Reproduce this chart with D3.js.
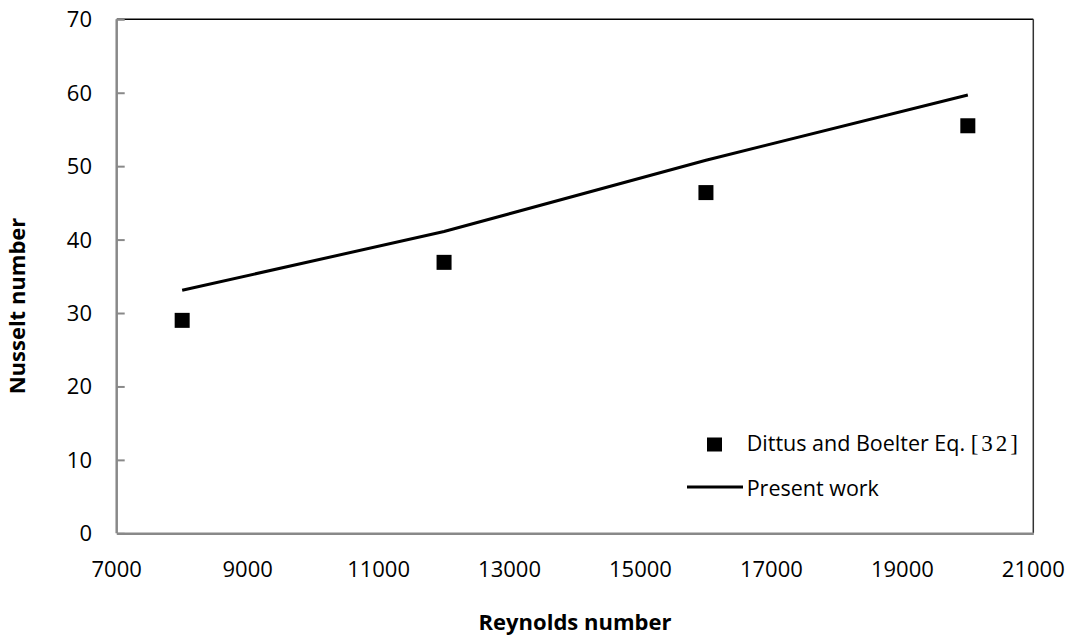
<!DOCTYPE html>
<html>
<head>
<meta charset="utf-8">
<script src="https://cdn.jsdelivr.net/npm/d3@7"></script>
<style>
  html, body { margin: 0; padding: 0; background: #fff; }
  svg { display: block; }
  text { font-family: "Open Sans", Lato, sans-serif; fill: #000; }
</style>
</head>
<body>
<svg id="chart" width="1076" height="639"></svg>
<script>
// Reynolds number at which each case was evaluated
const reynolds = [8000, 12000, 16000, 20000];
// Nusselt number from the Dittus–Boelter correlation
const dittusBoelter = [29.0, 36.9, 46.4, 55.5];
// Nusselt number from the present simulations
const presentWork = [33.1, 41.1, 50.8, 59.7];
// Axis ticks
const xTicks = [7000, 9000, 11000, 13000, 15000, 17000, 19000, 21000];
const yTicks = [0, 10, 20, 30, 40, 50, 60, 70];

const svg = d3.select("#chart");
const margin = { left: 116.7, right: 1033.3, top: 19.3, bottom: 533.3 };

const x = d3.scaleLinear().domain([7000, 21000]).range([margin.left, margin.right]);
const y = d3.scaleLinear().domain([0, 70]).range([margin.bottom, margin.top]);

const axisGrey = "#898989";

// Frame: top and right edges
svg.append("line")
  .attr("x1", margin.left).attr("x2", margin.right)
  .attr("y1", margin.top).attr("y2", margin.top)
  .attr("stroke", "#000").attr("stroke-width", 1.5);
svg.append("line")
  .attr("x1", margin.right).attr("x2", margin.right)
  .attr("y1", margin.top).attr("y2", margin.bottom)
  .attr("stroke", "#333").attr("stroke-width", 1.5);

// Y axis with inward ticks
const yAxis = svg.append("g")
  .attr("transform", `translate(${margin.left},0)`)
  .call(d3.axisRight(y).tickValues(yTicks).tickSize(8).tickFormat(""));
yAxis.select(".domain").attr("stroke", axisGrey).attr("stroke-width", 2.5)
  .attr("d", `M0,${margin.top}V${margin.bottom}`);
yAxis.selectAll(".tick line").attr("stroke", axisGrey).attr("stroke-width", 2);

svg.append("g").selectAll("text")
  .data(yTicks).join("text")
  .attr("x", 92).attr("y", d => y(d))
  .attr("dy", "0.36em")
  .attr("text-anchor", "end")
  .style("font-size", "22px")
  .text(d => d);

// X axis
const xAxis = svg.append("g")
  .attr("transform", `translate(0,${margin.bottom})`)
  .call(d3.axisBottom(x).tickValues(xTicks).tickSize(0).tickFormat(""));
xAxis.select(".domain").attr("stroke", axisGrey).attr("stroke-width", 2.5);

svg.append("g").selectAll("text")
  .data(xTicks).join("text")
  .attr("x", d => x(d)).attr("y", 577)
  .attr("text-anchor", "middle")
  .style("font-size", "22px")
  .text(d => d);

// Axis titles
svg.append("text")
  .attr("x", (margin.left + margin.right) / 2).attr("y", 630)
  .attr("text-anchor", "middle")
  .style("font-size", "22px").style("font-weight", "bold")
  .text("Reynolds number");

svg.append("text")
  .attr("transform", "translate(25,306) rotate(-90)")
  .attr("text-anchor", "middle")
  .style("font-size", "22px").style("font-weight", "bold")
  .text("Nusselt number");

// Present work line
const line = d3.line().x(d => x(d[0])).y(d => y(d[1]));
svg.append("path")
  .datum(reynolds.map((r, i) => [r, presentWork[i]]))
  .attr("d", line)
  .attr("fill", "none")
  .attr("stroke", "#000")
  .attr("stroke-width", 3);

// Dittus–Boelter markers
const sq = 15;
svg.append("g").selectAll("rect")
  .data(reynolds.map((r, i) => [r, dittusBoelter[i]]))
  .join("rect")
  .attr("x", d => x(d[0]) - sq / 2)
  .attr("y", d => y(d[1]) - sq / 2)
  .attr("width", sq).attr("height", sq)
  .attr("fill", "#000");

// Legend
const legend = svg.append("g");
legend.append("rect")
  .attr("x", 707).attr("y", 437.5).attr("width", 15).attr("height", 14)
  .attr("fill", "#000");
const t1 = legend.append("text")
  .attr("x", 746.7).attr("y", 451)
  .style("font-size", "21.5px");
t1.append("tspan").text("Dittus and Boelter Eq. ");
t1.append("tspan")
  .style("font-family", "'Liberation Serif', 'DejaVu Serif', serif")
  .style("font-size", "23px")
  .style("letter-spacing", "3px")
  .text("[32]");

legend.append("line")
  .attr("x1", 687).attr("x2", 743)
  .attr("y1", 487).attr("y2", 487)
  .attr("stroke", "#000").attr("stroke-width", 3);
legend.append("text")
  .attr("x", 746.7).attr("y", 495.5)
  .style("font-size", "21.5px")
  .text("Present work");
</script>
</body>
</html>
